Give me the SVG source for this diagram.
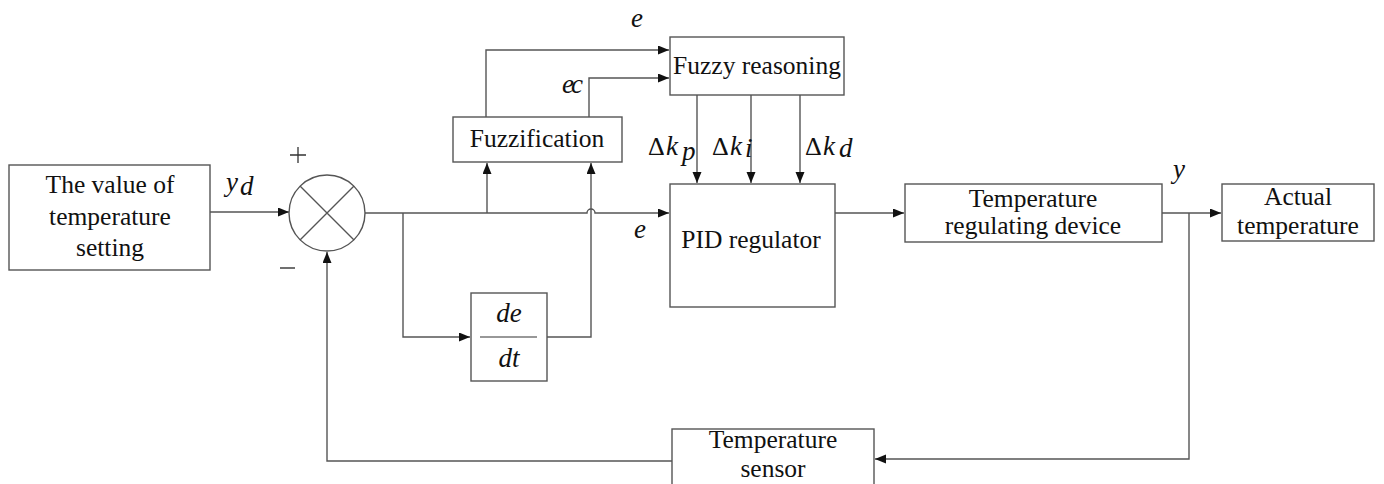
<svg xmlns="http://www.w3.org/2000/svg" width="1384" height="484" viewBox="0 0 1384 484">
<style>
  .box { fill: #fff; stroke: #555; stroke-width: 1.4; }
  .ln { fill: none; stroke: #555; stroke-width: 1.4; }
  .t { font-family: "Liberation Serif", "Times New Roman", serif; font-size: 25.5px; fill: #111; text-anchor: middle; }
  .m { font-family: "Liberation Serif", "Times New Roman", serif; font-style: italic; font-size: 27px; fill: #111; }
  .s { font-family: "Liberation Serif", "Times New Roman", serif; font-size: 26px; fill: #111; }
</style>
<defs>
  <marker id="arr" markerUnits="userSpaceOnUse" markerWidth="12" markerHeight="10" refX="11" refY="4.5" orient="auto">
    <path d="M0,0 L11,4.5 L0,9 z" fill="#111"/>
  </marker>
</defs>
<rect width="1384" height="484" fill="#fff"/>

<g id="connectors">
  <path class="ln" d="M210 212 H289" marker-end="url(#arr)"/>
  <path class="ln" d="M365 213 H587 A4 4 0 0 1 595 213 H669" marker-end="url(#arr)"/>
  <path class="ln" d="M487 213 V163" marker-end="url(#arr)"/>
  <path class="ln" d="M486 117 V50 H669" marker-end="url(#arr)"/>
  <path class="ln" d="M589 117 V78 H669" marker-end="url(#arr)"/>
  <path class="ln" d="M403 213 V337 H470" marker-end="url(#arr)"/>
  <path class="ln" d="M547 337 H591 V163" marker-end="url(#arr)"/>
  <path class="ln" d="M697 95 V183" marker-end="url(#arr)"/>
  <path class="ln" d="M751 95 V183" marker-end="url(#arr)"/>
  <path class="ln" d="M800 95 V183" marker-end="url(#arr)"/>
  <path class="ln" d="M835 213 H904" marker-end="url(#arr)"/>
  <path class="ln" d="M1162 213 H1221" marker-end="url(#arr)"/>
  <path class="ln" d="M1189 213 V459 H875" marker-end="url(#arr)"/>
  <path class="ln" d="M672 461 H327 V252" marker-end="url(#arr)"/>
</g>

<g id="setting">
  <rect class="box" x="9" y="165" width="201" height="105"/>
  <text class="t" x="110" y="193">The value of</text>
  <text class="t" x="110" y="225">temperature</text>
  <text class="t" x="110" y="256">setting</text>
</g>

<g id="sum">
  <circle class="box" cx="327" cy="213" r="38"/>
  <path class="ln" d="M300 186 L354 240 M354 186 L300 240"/>
  <path d="M290 155 H306 M298 147 V163" stroke="#333" stroke-width="1.3"/>
  <path d="M280 268 H295" stroke="#333" stroke-width="1.4"/>
</g>

<g id="fuzzification">
  <rect class="box" x="453" y="117" width="169" height="45"/>
  <text class="t" x="537" y="147">Fuzzification</text>
</g>

<g id="fuzzy-reasoning">
  <rect class="box" x="670" y="37" width="174" height="58"/>
  <text class="t" x="757" y="74">Fuzzy reasoning</text>
</g>

<g id="derivative">
  <rect class="box" x="471" y="293" width="76" height="88"/>
  <text class="m" x="509" y="322" text-anchor="middle">de</text>
  <path d="M480 337 H537" stroke="#333" stroke-width="1.2"/>
  <text class="m" x="509" y="367" text-anchor="middle">dt</text>
</g>

<g id="pid">
  <rect class="box" x="670" y="184" width="165" height="123"/>
  <text class="t" x="751" y="248">PID regulator</text>
</g>

<g id="regulating-device">
  <rect class="box" x="905" y="184" width="257" height="58"/>
  <text class="t" x="1033" y="207">Temperature</text>
  <text class="t" x="1033" y="234">regulating device</text>
</g>

<g id="actual">
  <rect class="box" x="1222" y="184" width="152" height="57"/>
  <text class="t" x="1298" y="205">Actual</text>
  <text class="t" x="1298" y="234">temperature</text>
</g>

<g id="sensor">
  <rect class="box" x="672" y="429" width="202" height="60"/>
  <text class="t" x="773" y="448">Temperature</text>
  <text class="t" x="773" y="477">sensor</text>
</g>

<g id="labels">
  <text class="m" x="226" y="191" font-size="26">y</text>
  <text class="m" x="240" y="195" font-size="16">d</text>
  <text class="m" x="631" y="27">e</text>
  <text class="m" x="562" y="93" letter-spacing="-3">ec</text>
  <text class="m" x="634" y="238">e</text>
  <text class="m" x="1173" y="178">y</text>
  <text class="s" x="648" y="155">Δ</text>
  <text class="m" x="666" y="155">k</text>
  <text class="m" x="682" y="160" font-size="18">p</text>
  <text class="s" x="712" y="155">Δ</text>
  <text class="m" x="730" y="155">k</text>
  <text class="m" x="745" y="157" font-size="18">i</text>
  <text class="s" x="805" y="155">Δ</text>
  <text class="m" x="823" y="155">k</text>
  <text class="m" x="839" y="157" font-size="18">d</text>
</g>
</svg>
